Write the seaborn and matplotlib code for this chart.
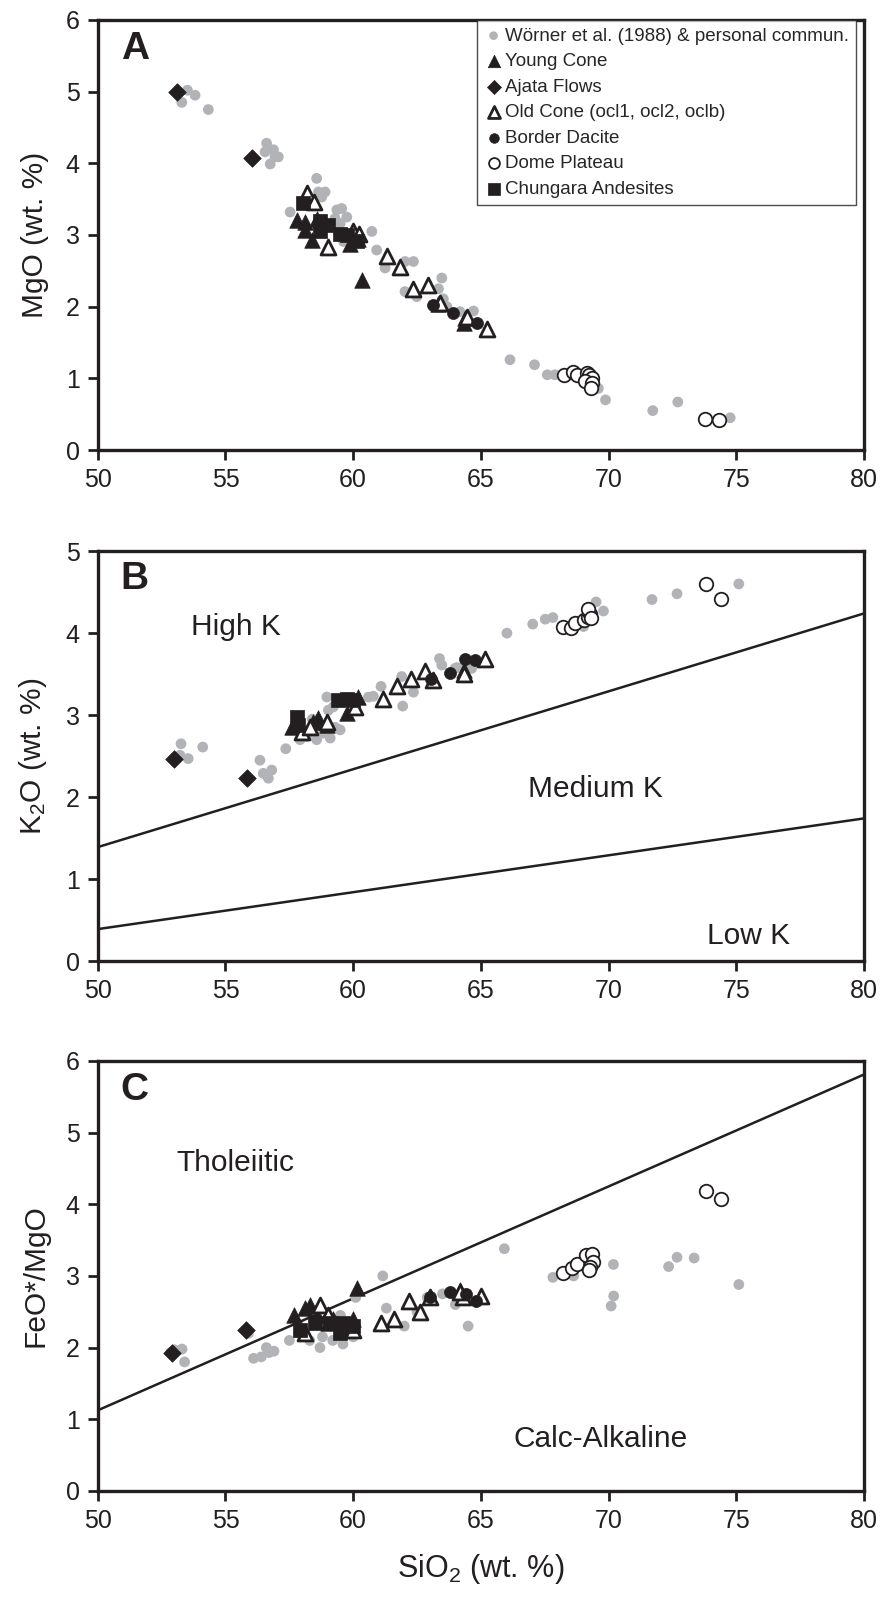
import pandas as pd
import matplotlib
matplotlib.use("Agg")
import matplotlib.pyplot as plt
import seaborn as sns

# ---- Panel A: MgO vs SiO2 ----
a_grey_si = [53.29, 53.51, 53.81, 54.33, 56.61, 56.55, 56.94, 56.75, 57.07, 56.88,
             57.53, 58.57, 58.64, 58.90, 58.77, 59.36, 59.55, 59.75, 59.29, 59.49,
             59.62, 60.73, 60.92, 61.25, 62.03, 62.36, 62.03, 62.49, 63.47, 63.34,
             63.53, 63.67, 64.71, 64.18, 66.14, 67.10, 67.60, 67.90, 69.60, 69.88,
             71.73, 72.71, 74.76]
a_grey_mg = [4.85, 5.02, 4.95, 4.75, 4.28, 4.16, 4.09, 3.99, 4.09, 4.19,
             3.32, 3.79, 3.60, 3.60, 3.53, 3.35, 3.37, 3.25, 3.23, 3.16,
             2.91, 3.05, 2.79, 2.54, 2.63, 2.63, 2.21, 2.14, 2.40, 2.25,
             2.11, 2.00, 1.94, 1.93, 1.26, 1.19, 1.05, 1.05, 0.86, 0.70,
             0.55, 0.67, 0.45]
a_young_si = [57.79, 58.12, 58.12, 58.38, 58.57, 59.88, 60.20, 60.33, 63.34, 64.38, 64.32]
a_young_mg = [3.21, 3.18, 3.07, 2.93, 3.23, 2.88, 2.95, 2.37, 2.04, 1.84, 1.77]
a_ajata_si = [53.10, 56.03]
a_ajata_mg = [4.99, 4.07]
a_old_si = [58.18, 58.47, 59.03, 60.01, 60.24, 61.31, 61.85, 62.36, 62.92, 63.40, 64.45, 65.23]
a_old_mg = [3.58, 3.46, 2.83, 3.05, 3.02, 2.71, 2.56, 2.25, 2.30, 2.05, 1.86, 1.69]
a_border_si = [63.14, 63.92, 64.84]
a_border_mg = [2.02, 1.91, 1.77]
a_dome_si = [68.27, 68.60, 68.75, 69.15, 69.25, 69.35, 69.08, 69.35, 69.30, 73.78, 74.34]
a_dome_mg = [1.05, 1.09, 1.04, 1.07, 1.04, 1.00, 0.96, 0.93, 0.86, 0.43, 0.42]
a_chung_si = [58.02, 58.70, 59.03, 58.70, 59.49, 59.75, 60.14]
a_chung_mg = [3.45, 3.19, 3.14, 3.05, 3.02, 3.00, 2.91]

# ---- Panel B: K2O vs SiO2 ----
b_grey_si = [53.26, 54.11, 53.54, 53.22, 56.35, 56.48, 56.81, 56.68, 57.36, 57.92,
             58.18, 58.57, 58.97, 59.03, 59.22, 59.49, 58.80, 59.30, 58.40, 59.10,
             60.60, 60.79, 61.09, 61.90, 61.94, 62.36, 63.38, 63.47, 63.99, 64.06,
             64.64, 64.38, 66.02, 67.03, 67.52, 67.82, 69.02, 69.51, 69.80, 71.70,
             72.68, 75.10]
b_grey_k = [2.65, 2.61, 2.47, 2.51, 2.45, 2.29, 2.33, 2.23, 2.59, 2.70,
            2.74, 2.70, 3.22, 3.06, 3.10, 2.82, 2.78, 2.85, 2.95, 2.72,
            3.22, 3.23, 3.35, 3.47, 3.11, 3.28, 3.69, 3.61, 3.57, 3.58,
            3.57, 3.61, 4.00, 4.11, 4.17, 4.19, 4.08, 4.38, 4.27, 4.41,
            4.48, 4.60]
b_young_si = [57.60, 57.80, 58.44, 58.64, 58.97, 59.75, 60.20, 64.32]
b_young_k = [2.86, 2.95, 2.92, 2.96, 2.88, 3.02, 3.22, 3.55]
b_ajata_si = [52.98, 55.85]
b_ajata_k = [2.46, 2.23]
b_old_si = [57.99, 58.31, 58.97, 60.07, 61.18, 61.71, 62.27, 62.80, 63.14, 64.32, 65.17]
b_old_k = [2.80, 2.86, 2.91, 3.10, 3.20, 3.35, 3.44, 3.54, 3.43, 3.50, 3.69]
b_border_si = [63.05, 63.80, 64.38, 64.77]
b_border_k = [3.44, 3.51, 3.68, 3.67]
b_dome_si = [68.21, 68.52, 68.69, 69.04, 69.21, 69.28, 69.21, 69.31, 73.80, 74.40]
b_dome_k = [4.08, 4.06, 4.12, 4.16, 4.20, 4.23, 4.30, 4.18, 4.60, 4.41]
b_chung_si = [57.79, 57.85, 59.42, 59.75, 60.01]
b_chung_k = [2.98, 2.88, 3.18, 3.20, 3.18]

# ---- Panel C: FeO*/MgO vs SiO2 ----
c_grey_si = [52.85, 53.00, 53.30, 53.40, 55.90, 56.10, 56.40, 56.60, 56.90, 56.70,
             57.50, 57.90, 58.30, 58.70, 58.80, 59.10, 59.20, 59.50, 59.60, 60.00,
             60.10, 61.16, 61.30, 62.00, 62.50, 62.90, 63.50, 64.00, 64.40, 64.50,
             65.92, 67.82, 68.63, 70.19, 70.20, 70.10, 72.35, 72.68, 73.35, 75.10]
c_grey_fm = [1.93, 1.97, 1.98, 1.80, 2.20, 1.85, 1.87, 2.00, 1.95, 1.93,
             2.10, 2.20, 2.10, 2.00, 2.15, 2.30, 2.10, 2.45, 2.05, 2.15,
             2.70, 3.00, 2.55, 2.30, 2.50, 2.70, 2.75, 2.60, 2.75, 2.30,
             3.38, 2.98, 3.00, 3.16, 2.72, 2.58, 3.13, 3.26, 3.25, 2.88]
c_young_si = [57.70, 58.10, 58.30, 58.60, 59.00, 59.20, 60.00, 60.14, 64.20]
c_young_fm = [2.45, 2.55, 2.60, 2.45, 2.35, 2.40, 2.40, 2.83, 2.80]
c_ajata_si = [52.90, 55.80]
c_ajata_fm = [1.92, 2.25]
c_old_si = [58.10, 58.70, 59.00, 60.00, 61.10, 61.60, 62.20, 62.60, 63.00, 64.30, 64.20, 65.00]
c_old_fm = [2.20, 2.60, 2.45, 2.25, 2.35, 2.40, 2.65, 2.50, 2.70, 2.70, 2.78, 2.72]
c_border_si = [63.00, 63.80, 64.40, 64.80]
c_border_fm = [2.70, 2.77, 2.75, 2.65]
c_dome_si = [68.23, 68.56, 68.76, 69.12, 69.35, 69.39, 69.28, 69.25, 73.82, 74.40]
c_dome_fm = [3.04, 3.11, 3.17, 3.29, 3.31, 3.20, 3.13, 3.08, 4.19, 4.08]
c_chung_si = [57.90, 58.50, 59.10, 59.60, 59.50, 60.00]
c_chung_fm = [2.25, 2.35, 2.35, 2.35, 2.20, 2.30]

# boundary lines (SiO2 ends, y ends)
line_si = [50, 80]
highk_line = [1.39, 4.24]
lowk_line = [0.39, 1.74]
thol_line = [1.125, 5.81]

group_names = ["Wörner et al. (1988) & personal commun.", "Young Cone", "Ajata Flows",
               "Old Cone (ocl1, ocl2, oclb)", "Border Dacite", "Dome Plateau",
               "Chungara Andesites"]

BLACK = "#231f20"
GREY = "#b1b3b6"
styles = {
    group_names[0]: dict(marker="o", s=60, color=GREY, edgecolor="none", linewidth=0),
    group_names[1]: dict(marker="^", s=125, color=BLACK, edgecolor=BLACK, linewidth=0.5),
    group_names[2]: dict(marker="D", s=80, color=BLACK, edgecolor=BLACK, linewidth=0.5),
    group_names[3]: dict(marker="^", s=115, color="white", edgecolor=BLACK, linewidth=2.0),
    group_names[4]: dict(marker="o", s=75, color=BLACK, edgecolor=BLACK, linewidth=0.5),
    group_names[5]: dict(marker="o", s=95, color="white", edgecolor=BLACK, linewidth=1.3),
    group_names[6]: dict(marker="s", s=115, color=BLACK, edgecolor=BLACK, linewidth=0.5),
}


def make_df(pairs):
    rows = []
    for name, (xs, ys) in zip(group_names, pairs):
        for x, y in zip(xs, ys):
            rows.append({"SiO2": x, "val": y, "group": name})
    return pd.DataFrame(rows)


df_a = make_df([(a_grey_si, a_grey_mg), (a_young_si, a_young_mg), (a_ajata_si, a_ajata_mg),
                (a_old_si, a_old_mg), (a_border_si, a_border_mg), (a_dome_si, a_dome_mg),
                (a_chung_si, a_chung_mg)])
df_b = make_df([(b_grey_si, b_grey_k), (b_young_si, b_young_k), (b_ajata_si, b_ajata_k),
                (b_old_si, b_old_k), (b_border_si, b_border_k), (b_dome_si, b_dome_k),
                (b_chung_si, b_chung_k)])
df_c = make_df([(c_grey_si, c_grey_fm), (c_young_si, c_young_fm), (c_ajata_si, c_ajata_fm),
                (c_old_si, c_old_fm), (c_border_si, c_border_fm), (c_dome_si, c_dome_fm),
                (c_chung_si, c_chung_fm)])

sns.set_style("ticks")
plt.rcParams["font.family"] = ["Liberation Sans", "DejaVu Sans"]
plt.rcParams["mathtext.fontset"] = "custom"
plt.rcParams["mathtext.rm"] = "Liberation Sans"
plt.rcParams["mathtext.default"] = "regular"

fig = plt.figure(figsize=(8.8, 15.97), dpi=100)
ax_a = fig.add_axes([0.1111, 0.7182, 0.8707, 0.2693])
ax_b = fig.add_axes([0.1111, 0.3982, 0.8707, 0.2567])
ax_c = fig.add_axes([0.1111, 0.0664, 0.8707, 0.2693])

for ax, df in [(ax_a, df_a), (ax_b, df_b), (ax_c, df_c)]:
    for i, name in enumerate(group_names):
        sub = df[df["group"] == name]
        sns.scatterplot(data=sub, x="SiO2", y="val", ax=ax, label=name,
                        zorder=2 + i, legend=False, **styles[name])

ax_b.plot(line_si, highk_line, color=BLACK, lw=1.8, zorder=1)
ax_b.plot(line_si, lowk_line, color=BLACK, lw=1.8, zorder=1)
ax_c.plot(line_si, thol_line, color=BLACK, lw=1.8, zorder=1)

ylabels = ["MgO (wt. %)", "K$_2$O (wt. %)", "FeO*/MgO"]
ymaxes = [6, 5, 6]
letters = ["A", "B", "C"]
for ax, yl, ym, let in zip([ax_a, ax_b, ax_c], ylabels, ymaxes, letters):
    ax.set_xlim(50, 80)
    ax.set_ylim(0, ym)
    ax.set_xticks(range(50, 81, 5))
    ax.set_yticks(range(0, ym + 1))
    ax.set_xlabel("")
    ax.set_ylabel(yl, fontsize=21.5, color=BLACK, labelpad=12)
    ax.tick_params(direction="out", length=7, width=2, labelsize=18, colors=BLACK, pad=6)
    for sp in ax.spines.values():
        sp.set_linewidth(2.4)
        sp.set_color(BLACK)
    ax.text(0.03, 0.975, let, transform=ax.transAxes, fontsize=28, fontweight="bold",
            va="top", ha="left", color=BLACK)

ax_c.set_xlabel("SiO$_2$ (wt. %)", fontsize=22, color=BLACK, labelpad=14)

ax_b.text(55.4, 4.08, "High K", fontsize=21.5, ha="center", va="center", color=BLACK)
ax_b.text(69.5, 2.1, "Medium K", fontsize=21.5, ha="center", va="center", color=BLACK)
ax_b.text(75.5, 0.3, "Low K", fontsize=21.5, ha="center", va="center", color=BLACK)
ax_c.text(55.4, 4.57, "Tholeiitic", fontsize=21.5, ha="center", va="center", color=BLACK)
ax_c.text(69.7, 0.72, "Calc-Alkaline", fontsize=21.5, ha="center", va="center", color=BLACK)

handles, labels = ax_a.get_legend_handles_labels()
leg = ax_a.legend(handles, labels, loc="upper right", bbox_to_anchor=(0.99, 1.0),
                  fontsize=13.5, frameon=True, fancybox=False, edgecolor=BLACK,
                  labelspacing=0.45, handletextpad=0.1, handlelength=1.0,
                  borderpad=0.4, borderaxespad=0.0, markerscale=0.8)
leg.get_frame().set_linewidth(1.0)

fig.savefig("out.png", dpi=100)
